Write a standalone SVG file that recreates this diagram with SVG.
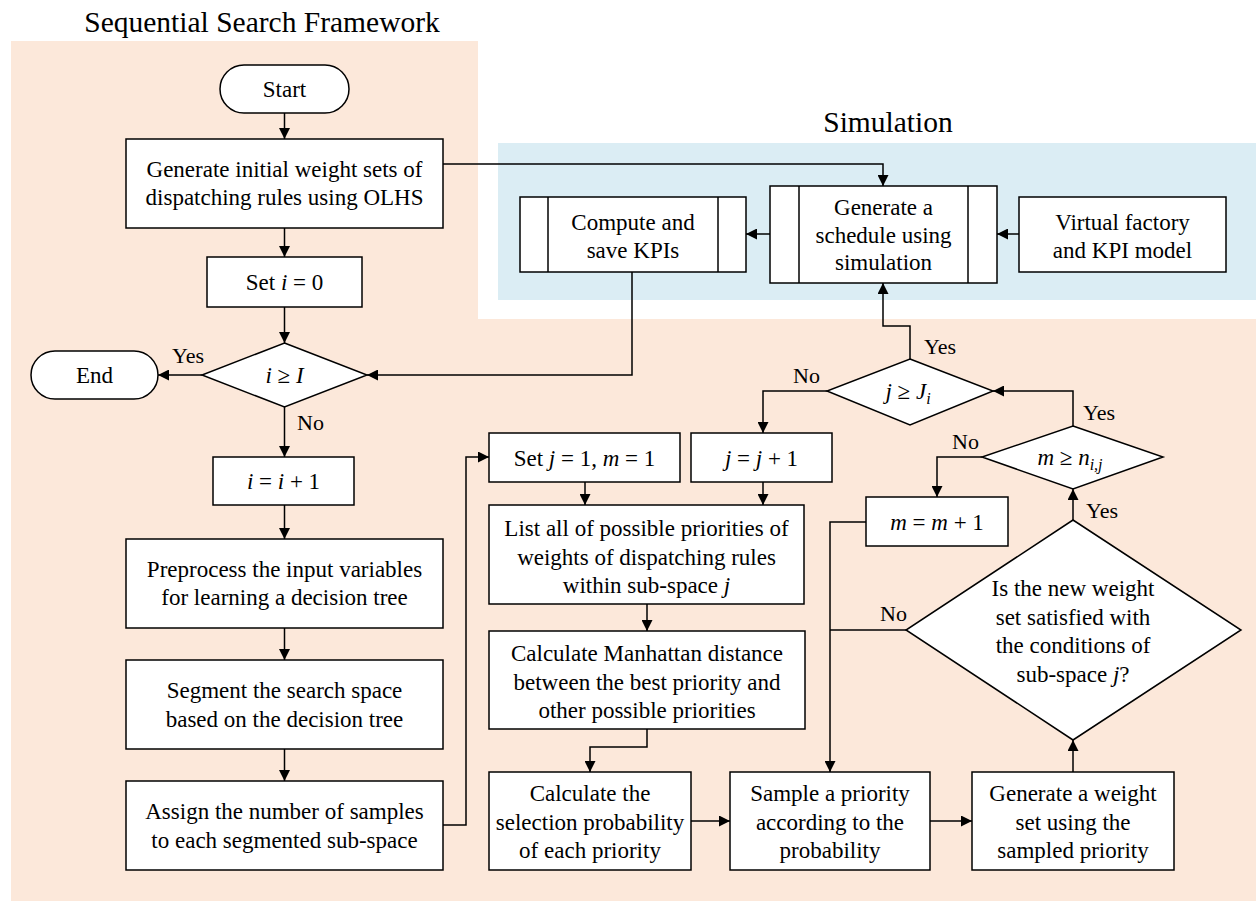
<svg xmlns="http://www.w3.org/2000/svg" width="1256" height="901" viewBox="0 0 1256 901">
<defs>
<marker id="ah" markerUnits="userSpaceOnUse" markerWidth="11" markerHeight="11" refX="11" refY="5.5" orient="auto">
<path d="M0,0 L11,5.5 L0,11 z" fill="#000"/>
</marker>
<style>
.bg1{fill:#FCE8DA}
.bg2{fill:#DBEDF4}
.box{fill:#fff;stroke:#000;stroke-width:1.5}
.ln{fill:none;stroke:#000;stroke-width:1.5}
.c{fill:none;stroke:#000;stroke-width:1.5;marker-end:url(#ah)}
text{font-family:"Liberation Serif","Times New Roman",serif;font-size:23px;fill:#000;text-anchor:middle}
.title{font-size:29.5px}
.lbl{font-size:22px;text-anchor:start}
.it{font-style:italic}
.sub{font-style:italic;font-size:16px}
</style>
</defs>
<g id="backgrounds">
<path class="bg1" d="M11,41 H478 V319 H1256 V901 H11 Z"/>
<rect class="bg2" x="498" y="143" width="758" height="157"/>
<text class="title" x="262" y="32">Sequential Search Framework</text>
<text class="title" x="888" y="132">Simulation</text>
</g>
<g id="connectors">
<line class="c" x1="284.5" y1="113" x2="284.5" y2="139"/>
<line class="c" x1="284.5" y1="228" x2="284.5" y2="257"/>
<line class="c" x1="284.5" y1="307" x2="284.5" y2="343"/>
<line class="c" x1="202" y1="375" x2="158" y2="375"/>
<line class="c" x1="284.5" y1="407" x2="284.5" y2="457"/>
<line class="c" x1="284.5" y1="505" x2="284.5" y2="539"/>
<line class="c" x1="284.5" y1="628" x2="284.5" y2="660"/>
<line class="c" x1="284.5" y1="749" x2="284.5" y2="781"/>
<path class="c" d="M443,825 H466 V457 H489"/>
<path class="c" d="M443,164 H883 V186"/>
<line class="c" x1="1019" y1="234" x2="997" y2="234"/>
<line class="c" x1="770" y1="234" x2="746" y2="234"/>
<path class="c" d="M632,272 V375 H367"/>
<path class="c" d="M910,359 V326 H883 V283"/>
<path class="c" d="M827,391 H763 V433"/>
<line class="c" x1="585" y1="482" x2="585" y2="505"/>
<line class="c" x1="763" y1="482" x2="763" y2="505"/>
<line class="c" x1="647" y1="604" x2="647" y2="631"/>
<path class="c" d="M647,729 V747 H590 V772"/>
<line class="c" x1="691" y1="821" x2="730" y2="821"/>
<line class="c" x1="930" y1="821" x2="972" y2="821"/>
<line class="c" x1="1073" y1="772" x2="1073" y2="740"/>
<line class="c" x1="1073" y1="520" x2="1073" y2="489"/>
<path class="c" d="M1073,426 V391 H993"/>
<path class="c" d="M982,457 H937 V497"/>
<path class="c" d="M866,522 H830 V772"/>
<path class="ln" d="M906,630 H830"/>
<text class="lbl" x="172" y="363">Yes</text>
<text class="lbl" x="297" y="430">No</text>
<text class="lbl" x="924" y="354">Yes</text>
<text class="lbl" x="793" y="383">No</text>
<text class="lbl" x="1083" y="420">Yes</text>
<text class="lbl" x="952" y="449">No</text>
<text class="lbl" x="1086" y="518">Yes</text>
<text class="lbl" x="880" y="621">No</text>
</g>
<g id="start">
<rect class="box" x="220" y="65" width="129" height="48" rx="24" ry="24"/>
<text x="284.5" y="97">Start</text>
</g>
<g id="gen-initial">
<rect class="box" x="126" y="139" width="317" height="89"/>
<text x="284.5" y="177">Generate initial  weight sets of</text>
<text x="284.5" y="205">dispatching  rules using OLHS</text>
</g>
<g id="set-i">
<rect class="box" x="207" y="257" width="155" height="50"/>
<text x="284.5" y="290">Set <tspan class="it">i</tspan> = 0</text>
</g>
<g id="dec-i">
<polygon class="box" points="284.5,343 367,375 284.5,407 202,375"/>
<text x="284.5" y="383"><tspan class="it">i</tspan> ≥ <tspan class="it">I</tspan></text>
</g>
<g id="end">
<rect class="box" x="31" y="351" width="127" height="48" rx="24" ry="24"/>
<text x="94.5" y="383">End</text>
</g>
<g id="inc-i">
<rect class="box" x="213" y="457" width="141" height="48"/>
<text x="283.5" y="489"><tspan class="it">i</tspan> = <tspan class="it">i</tspan> + 1</text>
</g>
<g id="preprocess">
<rect class="box" x="126" y="539" width="317" height="89"/>
<text x="284.5" y="577">Preprocess the input variables</text>
<text x="284.5" y="605">for learning a decision  tree</text>
</g>
<g id="segment">
<rect class="box" x="126" y="660" width="317" height="89"/>
<text x="284.5" y="698">Segment the search space</text>
<text x="284.5" y="727">based on the decision  tree</text>
</g>
<g id="assign">
<rect class="box" x="126" y="781" width="317" height="89"/>
<text x="284.5" y="819">Assign the number of samples</text>
<text x="284.5" y="848">to each segmented sub-space</text>
</g>
<g id="compute-kpi">
<rect class="box" x="520" y="197" width="226" height="75"/>
<line class="ln" x1="548" y1="197" x2="548" y2="272"/>
<line class="ln" x1="718" y1="197" x2="718" y2="272"/>
<text x="633" y="230">Compute and</text>
<text x="633" y="258">save KPIs</text>
</g>
<g id="gen-schedule">
<rect class="box" x="770" y="186" width="227" height="97"/>
<line class="ln" x1="799" y1="186" x2="799" y2="283"/>
<line class="ln" x1="968" y1="186" x2="968" y2="283"/>
<text x="883.5" y="215">Generate a</text>
<text x="883.5" y="243">schedule using</text>
<text x="883.5" y="270">simulation</text>
</g>
<g id="virtual-factory">
<rect class="box" x="1019" y="197" width="207" height="75"/>
<text x="1122.5" y="230">Virtual factory</text>
<text x="1122.5" y="258">and KPI model</text>
</g>
<g id="dec-j">
<polygon class="box" points="910,359 993,391 910,425 827,391"/>
<text x="908" y="399"><tspan class="it">j</tspan> ≥ <tspan class="it">J</tspan><tspan class="sub" dy="5">i</tspan></text>
</g>
<g id="set-j">
<rect class="box" x="489" y="433" width="191" height="49"/>
<text x="584.5" y="466">Set <tspan class="it">j</tspan> = 1, <tspan class="it">m</tspan> = 1</text>
</g>
<g id="inc-j">
<rect class="box" x="691" y="433" width="141" height="49"/>
<text x="761.5" y="466"><tspan class="it">j</tspan> = <tspan class="it">j</tspan> + 1</text>
</g>
<g id="dec-m">
<polygon class="box" points="1073,426 1163,457 1073,489 982,457"/>
<text x="1070" y="465"><tspan class="it">m</tspan> ≥ <tspan class="it">n</tspan><tspan class="sub" dy="5">i,j</tspan></text>
</g>
<g id="inc-m">
<rect class="box" x="866" y="497" width="142" height="49"/>
<text x="937" y="530"><tspan class="it">m</tspan> = <tspan class="it">m</tspan> + 1</text>
</g>
<g id="list">
<rect class="box" x="489" y="505" width="315" height="99"/>
<text x="646.5" y="536">List all of possible priorities  of</text>
<text x="646.5" y="565">weights of dispatching  rules</text>
<text x="646.5" y="593">within  sub-space <tspan class="it">j</tspan></text>
</g>
<g id="manhattan">
<rect class="box" x="489" y="631" width="316" height="98"/>
<text x="647" y="661">Calculate Manhattan distance</text>
<text x="647" y="690">between the best priority  and</text>
<text x="647" y="718">other possible  priorities</text>
</g>
<g id="calc-prob">
<rect class="box" x="489" y="772" width="202" height="98"/>
<text x="590" y="801">Calculate the</text>
<text x="590" y="830">selection probability</text>
<text x="590" y="858">of each priority</text>
</g>
<g id="sample">
<rect class="box" x="730" y="772" width="200" height="98"/>
<text x="830" y="801">Sample a priority</text>
<text x="830" y="830">according to the</text>
<text x="830" y="858">probability</text>
</g>
<g id="gen-weight">
<rect class="box" x="972" y="772" width="202" height="98"/>
<text x="1073" y="801">Generate a weight</text>
<text x="1073" y="830">set using the</text>
<text x="1073" y="858">sampled priority</text>
</g>
<g id="dec-cond">
<polygon class="box" points="1073,520 1241,630 1073,740 906,630"/>
<text x="1073" y="596">Is the new weight</text>
<text x="1073" y="625">set satisfied with</text>
<text x="1073" y="653">the conditions  of</text>
<text x="1073" y="682">sub-space <tspan class="it">j</tspan>?</text>
</g>
</svg>
